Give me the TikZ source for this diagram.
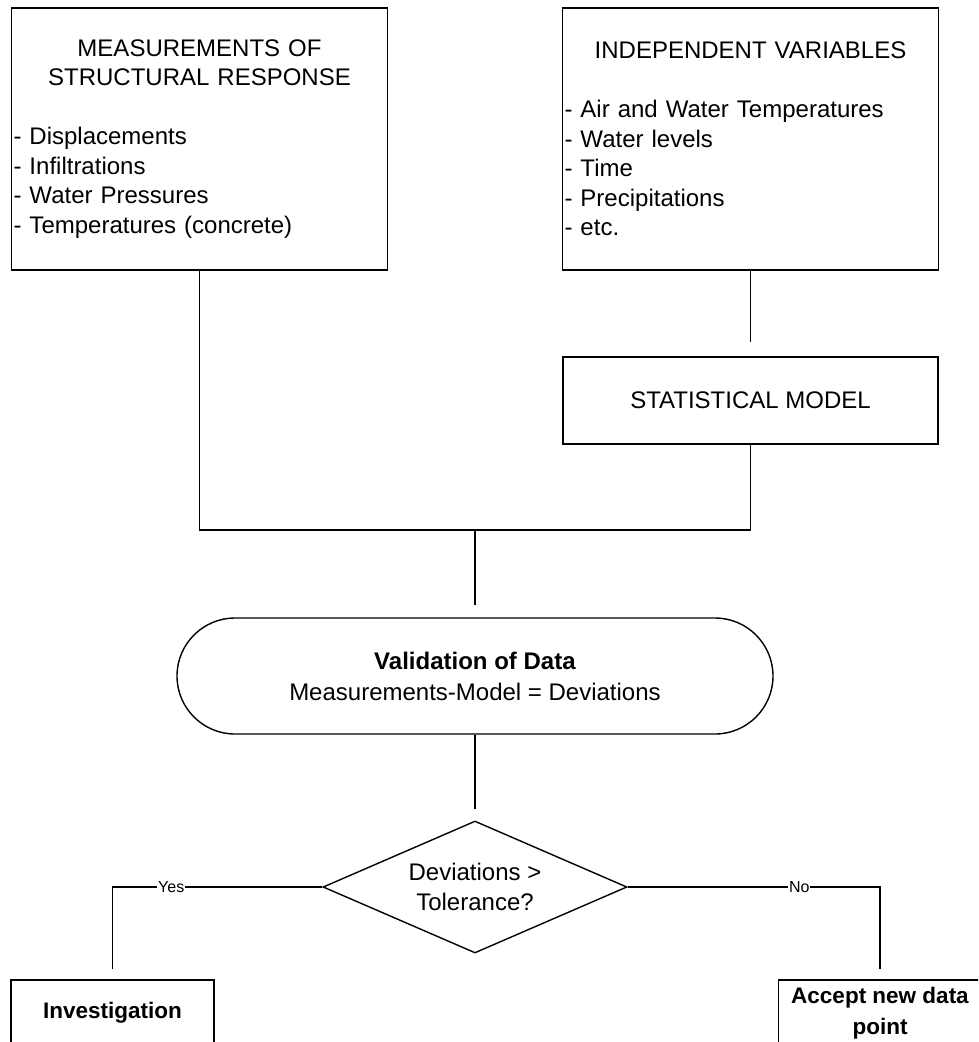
\documentclass[tikz,border=0pt]{standalone}
\usepackage{fontspec}
\setmainfont{Liberation Sans}
\usetikzlibrary{shapes.geometric}
\newcommand{\hdrline}[1]{\makebox[\hsize][c]{#1}}
\begin{document}
\begin{tikzpicture}[x=1pt,y=-1pt,line width=1.4pt,
infoblock/.style={draw,rectangle,align=left,inner xsep=2pt,inner ysep=0pt,text width=372pt,minimum width=376pt,minimum height=262pt,font=\fontsize{24}{29.5}\selectfont},
modelblock/.style={draw,rectangle,minimum width=375pt,minimum height=87pt,font=\fontsize{24}{29.5}\selectfont},
termblock/.style={draw,rectangle,rounded corners=58pt,align=center,minimum width=596pt,minimum height=116pt,font=\fontsize{24}{31}\selectfont},
decision/.style={draw,diamond,align=center,inner sep=0pt,aspect=2.3,minimum width=304pt,minimum height=132pt,font=\fontsize{24}{30}\selectfont},
endblock/.style={draw,rectangle,align=center,inner sep=0pt,minimum width=203pt,minimum height=66pt,font=\bfseries\fontsize{22.5}{31}\selectfont},
branch/.style={fill=white,inner sep=1pt,font=\fontsize{16}{18}\selectfont}]
\useasboundingbox (0,0) rectangle (978,1042);
\clip (0,0) rectangle (978,1042);
\draw (199.5,139) node[infoblock] (meas) {\hdrline{MEASUREMENTS OF}\\\hdrline{STRUCTURAL RESPONSE}\\[29.5pt]- Displacements\\- Infiltrations\\- Water Pressures\\- Temperatures (concrete)};
\draw (750.5,139) node[infoblock] (indep) {\hdrline{INDEPENDENT VARIABLES}\\[29.5pt]- Air and Water Temperatures\\- Water levels\\- Time\\- Precipitations\\- etc.};
\draw (750.5,400.5) node[modelblock] (stat) {STATISTICAL MODEL};
\draw (475,676) node[termblock] (valid) {\textbf{Validation of Data}\\Measurements-Model = Deviations};
\draw (475,887) node[decision] (dec) {Deviations >\\Tolerance?};
\draw (112.5,1013) node[endblock] (invest) {Investigation};
\draw (880,1013) node[endblock] (accept) {Accept new data\\point};
\coordinate (join) at (475,530);
\draw[shorten >=14pt] (indep.south) -- (stat.north);
\draw (meas.south) |- (join) -| (stat.south);
\draw[shorten >=12pt] (join) -- (valid.north);
\draw[shorten >=11pt] (valid.south) -- (dec.north);
\draw[shorten >=10pt] (dec.west) -| node[branch,pos=0.36] {Yes} (invest.north);
\draw[shorten >=10pt] (dec.east) -| node[branch,pos=0.34] {No} (accept.north);
\end{tikzpicture}
\end{document}
